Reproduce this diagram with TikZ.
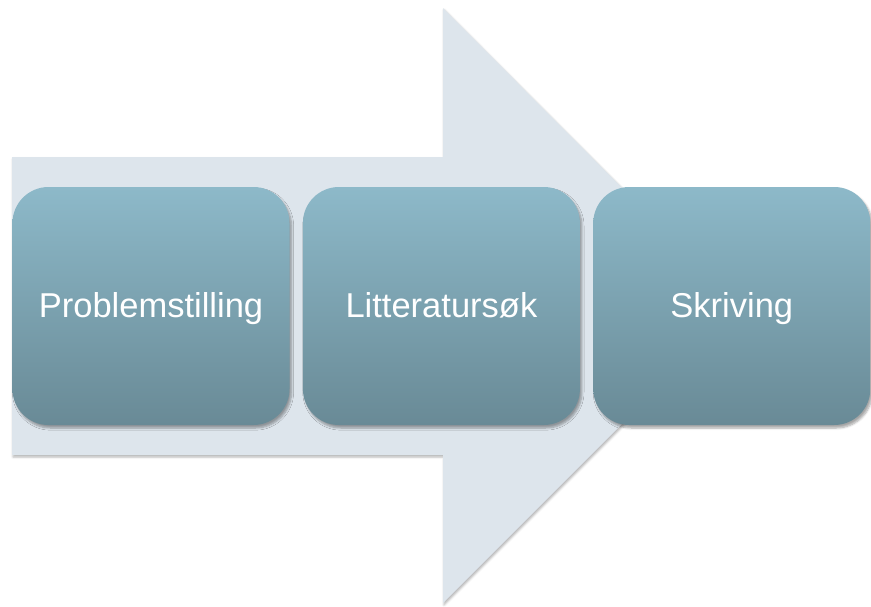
\documentclass[tikz,border=0pt]{standalone}
\usepackage{fontspec}
\setmainfont{Liberation Sans}
\usetikzlibrary{positioning,shadows.blur}
\definecolor{arrowfill}{HTML}{DDE5EC}
\definecolor{boxtop}{HTML}{8DB9C9}
\definecolor{boxbottom}{HTML}{698A96}
\tikzset{
  stepbox/.style={rectangle, rounded corners=36pt, minimum width=277pt, minimum height=238pt,
    top color=boxtop, bottom color=boxbottom, draw=none, inner sep=0pt,
    text=white, text height=25pt, text depth=3pt,
    font=\fontsize{34.5}{40}\selectfont,
    blur shadow={shadow xshift=2pt, shadow yshift=-3pt, shadow blur steps=6, shadow opacity=35}},
}

\begin{document}
\begin{tikzpicture}[x=1pt, y=-1pt]
  \useasboundingbox (0,0) rectangle (871,606);
  % big background arrow
  \fill[arrowfill, blur shadow={shadow xshift=1pt, shadow yshift=-2pt, shadow blur steps=4, shadow opacity=30}]
    (12,157) -- (443,157) -- (443,8) -- (740,306) -- (443,603) -- (443,455) -- (12,455) -- cycle;
  % steps
  \node[stepbox] (problem) at (151,306) {Problemstilling};
  \node[stepbox, right=13pt of problem] (litt) {Litteratursøk};
  \node[stepbox, right=13pt of litt] (skriv) {Skriving};
\end{tikzpicture}
\end{document}
